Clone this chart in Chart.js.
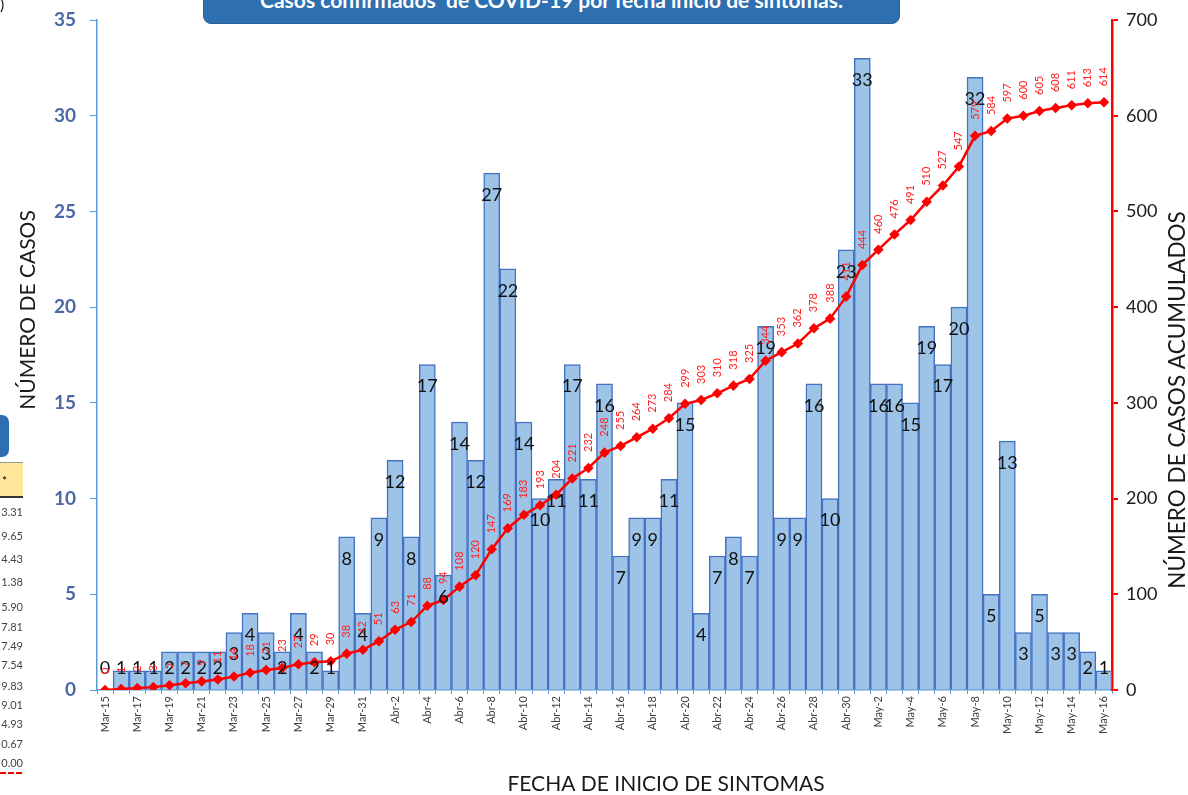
<!DOCTYPE html>
<html>
<head>
<meta charset="utf-8">
<script src="https://cdn.jsdelivr.net/npm/chart.js@4.4.1/dist/chart.umd.min.js"></script>
<style>
    html, body { margin: 0; padding: 0; background: #fff; overflow: hidden; }
    #wrap { position: relative; width: 1188px; height: 795px; overflow: hidden; font-family: Lato, 'Open Sans', sans-serif; }
    #chart { position: absolute; left: 0; top: 0; }
    .titlebox {
        position: absolute; left: 203px; top: -22px; width: 697px; height: 46px;
        background: #2e6fb0; border-radius: 8px; color: #fff; font-weight: bold;
        font-size: 21px; text-align: center; line-height: 42px; box-sizing: border-box;
        border: 1px solid #2a5f98;
    }
    .sidebox { position: absolute; left: -20px; top: 415px; width: 29px; height: 42px; background: #2e6fb0; border-radius: 7px; }
    .sidehead { position: absolute; left: 0; top: 462px; width: 23px; height: 36px; background: #ffe699; border-top: 1px solid #999; border-bottom: 2px solid #333; font-size: 12px; line-height: 36px; padding-left: 2px; box-sizing: border-box; }
    .sidenum { position: absolute; right: 1165px; font-size: 11px; color: #444; }
    .corner { position: absolute; left: 0; top: -6px; font-size: 16px; color: #222; }
</style>
</head>
<body>
<div id="wrap">
    <canvas id="chart" width="1188" height="795"></canvas>
    <div class="titlebox">Casos confirmados&nbsp; de COVID-19 por fecha inicio de síntomas.</div>
    <div class="corner">)</div>
    <div class="sidebox"></div>
    <div class="sidehead">*</div>
    <div id="sidecol"></div>
</div>
<script>
// dias con fecha de inicio de sintomas
const fechas = [
    'Mar-15', 'Mar-16', 'Mar-17', 'Mar-18', 'Mar-19', 'Mar-20', 'Mar-21', 'Mar-22', 'Mar-23', 'Mar-24',
    'Mar-25', 'Mar-26', 'Mar-27', 'Mar-28', 'Mar-29', 'Mar-30', 'Mar-31',
    'Abr-1', 'Abr-2', 'Abr-3', 'Abr-4', 'Abr-5', 'Abr-6', 'Abr-7', 'Abr-8', 'Abr-9', 'Abr-10',
    'Abr-11', 'Abr-12', 'Abr-13', 'Abr-14', 'Abr-15', 'Abr-16', 'Abr-17', 'Abr-18', 'Abr-19', 'Abr-20',
    'Abr-21', 'Abr-22', 'Abr-23', 'Abr-24', 'Abr-25', 'Abr-26', 'Abr-27', 'Abr-28', 'Abr-29', 'Abr-30',
    'May-1', 'May-2', 'May-3', 'May-4', 'May-5', 'May-6', 'May-7', 'May-8', 'May-9', 'May-10',
    'May-11', 'May-12', 'May-13', 'May-14', 'May-15', 'May-16'
];

const casosDiarios = [
    0, 1, 1, 1, 2, 2, 2, 2, 3, 4, 3, 2, 4, 2, 1, 8, 4,
    9, 12, 8, 17, 6, 14, 12, 27, 22, 14, 10, 11, 17, 11, 16, 7, 9, 9, 11, 15,
    4, 7, 8, 7, 19, 9, 9, 16, 10, 23,
    33, 16, 16, 15, 19, 17, 20, 32, 5, 13, 3, 5, 3, 3, 2, 1
];

const casosAcumulados = [
    0, 1, 2, 3, 5, 7, 9, 11, 14, 18, 21, 23, 27, 29, 30, 38, 42,
    51, 63, 71, 88, 94, 108, 120, 147, 169, 183, 193, 204, 221, 232, 248, 255, 264, 273, 284, 299,
    303, 310, 318, 325, 344, 353, 362, 378, 388, 411,
    444, 460, 476, 491, 510, 527, 547, 579, 584, 597, 600, 605, 608, 611, 613, 614
];

// columna recortada a la izquierda
const columnaLateral = ['3.31', '9.65', '4.43', '1.38', '5.90', '7.81', '7.49', '7.54', '9.83', '9.01', '4.93', '0.67', '0.00'];
const columnaY = [505, 529, 552, 575, 600, 620, 639, 658, 679, 698, 717, 737, 756];

const side = document.getElementById('sidecol');
columnaLateral.forEach(function (t, i) {
    const d = document.createElement('div');
    d.className = 'sidenum';
    d.style.top = columnaY[i] + 'px';
    d.textContent = t;
    side.appendChild(d);
});
const dash = document.createElement('div');
dash.style.cssText = 'position:absolute;left:0;top:772px;width:22px;border-top:2px dashed #e00;';
side.appendChild(dash);

const FONT = 'Lato, "Open Sans", sans-serif';

const etiquetas = {
    id: 'etiquetas',
    afterDatasetsDraw(chart) {
        const ctx = chart.ctx;
        const base = chart.scales.y.getPixelForValue(0);

        // numeros en las barras
        const barMeta = chart.getDatasetMeta(1);
        ctx.save();
        ctx.fillStyle = '#111';
        ctx.font = '18px ' + FONT;
        ctx.textAlign = 'center';
        ctx.textBaseline = 'middle';
        barMeta.data.forEach(function (bar, i) {
            const y = Math.min(bar.y + 22, base - 22);
            ctx.fillText(String(casosDiarios[i]), bar.x, y);
        });
        ctx.restore();

        // acumulados en vertical
        const lineMeta = chart.getDatasetMeta(0);
        ctx.save();
        ctx.fillStyle = '#ff2020';
        ctx.font = '11px ' + FONT;
        ctx.textAlign = 'left';
        ctx.textBaseline = 'middle';
        lineMeta.data.forEach(function (pt, i) {
            ctx.save();
            ctx.translate(pt.x, pt.y - 16);
            ctx.rotate(-Math.PI / 2);
            ctx.fillText(String(casosAcumulados[i]), 0, 0);
            ctx.restore();
        });
        ctx.restore();
    },
    afterDraw(chart) {
        const ctx = chart.ctx;
        ctx.save();
        ctx.fillStyle = '#1a1a1a';
        ctx.textAlign = 'center';
        ctx.textBaseline = 'middle';

        ctx.font = '21px ' + FONT;
        ctx.fillText('FECHA DE INICIO DE SINTOMAS', 666, 784);

        ctx.save();
        ctx.translate(28, 310);
        ctx.rotate(-Math.PI / 2);
        ctx.font = '21px ' + FONT;
        ctx.fillText('NÚMERO DE CASOS', 0, 0);
        ctx.restore();

        ctx.save();
        ctx.translate(1178, 400);
        ctx.rotate(-Math.PI / 2);
        ctx.font = '22.5px ' + FONT;
        ctx.fillText('NÚMERO DE CASOS ACUMULADOS', 0, 0);
        ctx.restore();

        ctx.restore();
    }
};

new Chart(document.getElementById('chart').getContext('2d'), {
    type: 'bar',
    data: {
        labels: fechas,
        datasets: [{
            type: 'line',
            label: 'Acumulados',
            data: casosAcumulados,
            yAxisID: 'y1',
            borderColor: '#ff0000',
            backgroundColor: '#ff0000',
            borderWidth: 2.5,
            pointStyle: 'rectRot',
            pointRadius: 3.5,
            pointBackgroundColor: '#ff0000',
            pointBorderColor: '#ff0000',
            tension: 0,
            order: 0
        }, {
            label: 'Casos',
            data: casosDiarios,
            yAxisID: 'y',
            backgroundColor: '#9dc3e6',
            borderColor: '#4472c4',
            borderWidth: 1.5,
            barPercentage: 1,
            categoryPercentage: 1,
            order: 1
        }]
    },
    options: {
        responsive: false,
        animation: false,
        events: [],
        layout: { padding: { top: 20, left: 0, right: 0, bottom: 0 } },
        plugins: {
            legend: { display: false },
            tooltip: { enabled: false }
        },
        scales: {
            x: {
                afterFit: function (s) { s.height = 105; },
                border: { color: '#5b9bd5', width: 1.5 },
                grid: { drawOnChartArea: false, drawTicks: true, tickLength: 4, color: '#5b9bd5' },
                ticks: {
                    autoSkip: false,
                    maxRotation: 90,
                    minRotation: 90,
                    padding: 2,
                    color: '#404040',
                    font: { family: FONT, size: 11 },
                    callback: function (v, i) { return i % 2 === 0 ? fechas[i] : ''; }
                }
            },
            y: {
                position: 'left',
                min: 0,
                max: 35,
                afterFit: function (s) { s.width = 97; s.paddingTop = 0; s.paddingBottom = 0; },
                border: { color: '#5b9bd5', width: 1.5 },
                grid: { drawOnChartArea: false, drawTicks: true, tickLength: 7, color: '#5b9bd5' },
                ticks: {
                    stepSize: 5,
                    padding: 14,
                    color: '#4a67a8',
                    font: { family: FONT, size: 19, weight: 'bold' }
                }
            },
            y1: {
                position: 'right',
                min: 0,
                max: 700,
                afterFit: function (s) { s.width = 76; s.paddingTop = 0; s.paddingBottom = 0; },
                border: { color: '#ff0000', width: 2.5 },
                grid: { drawOnChartArea: false, drawTicks: true, tickLength: 6, color: '#ff0000', lineWidth: 2 },
                ticks: {
                    stepSize: 100,
                    padding: 8,
                    color: '#1a1a1a',
                    font: { family: FONT, size: 18 }
                }
            }
        }
    },
    plugins: [etiquetas]
});
</script>
</body>
</html>
